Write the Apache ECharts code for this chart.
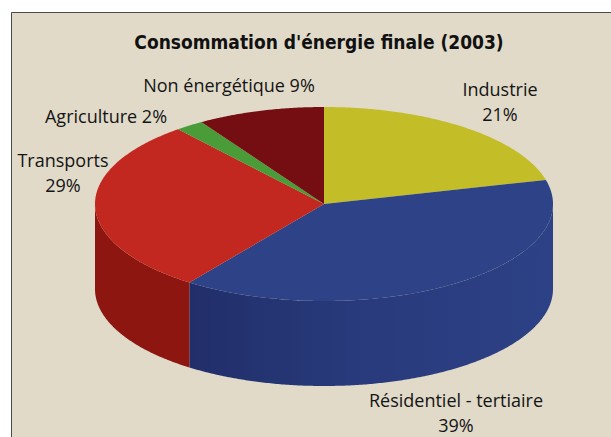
<!DOCTYPE html>
<html><head><meta charset="utf-8">
<script src="https://cdn.jsdelivr.net/npm/echarts@6/dist/echarts.min.js"></script>
<style>html,body{margin:0;padding:0;background:#fff;}#c{width:611px;height:437px;}</style>
</head><body><div id="c"></div>
<script>
// ---- data ----
const categories = ['Industrie', 'Résidentiel - tertiaire', 'Transports', 'Agriculture', 'Non énergétique'];
const values = [21, 39, 29, 2, 9];
const titleText = "Consommation d'énergie finale (2003)";

// ---- styles / layout ----
const topColors = ['#c3bd27', '#2e4387', '#c22820', '#4a9c39', '#740e13'];
const sideColors = ['#8f8b1c', null, '#8d1610', '#2f6e26', '#520a0d'];
const CX = 324, CY = 204, RX = 229, RY = 97, DEPTH = 85;
const labelLayout = [
  {x: 500, y: 101, sep: '\n'},
  {x: 456, y: 412, sep: '\n'},
  {x: 63, y: 172, sep: '\n'},
  {x: 106, y: 116, sep: ' '},
  {x: 229, y: 85, sep: ' '}
];
const FONT = '"Open Sans", "Noto Sans", sans-serif';

const total = values.reduce((a, b) => a + b, 0);
function pt(theta, dy) {
  const r = theta * Math.PI / 180;
  return [CX + RX * Math.sin(r), CY - RY * Math.cos(r) + (dy || 0)];
}
function arc(a0, a1, dy) {
  const pts = [];
  const n = Math.max(2, Math.ceil(Math.abs(a1 - a0) / 0.5));
  for (let i = 0; i <= n; i++) pts.push(pt(a0 + (a1 - a0) * i / n, dy));
  return pts;
}

function renderItem(params, api) {
  const idx = params.dataIndex;
  let before = 0;
  for (let i = 0; i < idx; i++) before += values[i];
  const start = before / total * 360;
  const end = (before + api.value(1)) / total * 360;
  const children = [];
  const s0 = Math.max(start, 90), s1 = Math.min(end, 270);
  if (s0 < s1) {
    const pts = arc(s0, s1, 0).concat(arc(s1, s0, DEPTH));
    let fill = sideColors[idx];
    if (idx === 1) {
      fill = new echarts.graphic.LinearGradient(0, 0, 1, 0, [
        {offset: 0, color: '#212e6a'}, {offset: 0.45, color: '#283a7b'}, {offset: 1, color: '#2d4186'}
      ]);
    }
    children.push({type: 'polygon', shape: {points: pts}, style: {fill: fill}});
  }
  const topPts = [[CX, CY]].concat(arc(start, end, 0));
  children.push({type: 'polygon', shape: {points: topPts}, style: {fill: topColors[idx]}});
  return {type: 'group', children: children};
}

const labels = categories.map((c, i) => ({
  type: 'text',
  z: 10,
  style: {
    text: c + labelLayout[i].sep + values[i] + '%',
    x: labelLayout[i].x, y: labelLayout[i].y,
    align: 'center', verticalAlign: 'middle',
    font: '18px ' + FONT, lineHeight: 25, fill: '#141414'
  }
}));

const chart = echarts.init(document.getElementById('c'), null, {renderer: 'svg'});
chart.setOption({
  animation: false,
  backgroundColor: '#ffffff',
  graphic: [
    {type: 'rect', z: -10, shape: {x: 11.5, y: 12.5, width: 700, height: 500},
     style: {fill: '#e1dac9', stroke: '#4a4a4a', lineWidth: 1}},
    {type: 'text', z: 10, style: {text: titleText, x: 319, y: 42, align: 'center', verticalAlign: 'middle',
      font: 'bold 19px "Liberation Sans Narrow", "DejaVu Sans Condensed", sans-serif', fill: '#111'}}
  ].concat(labels),
  series: [{
    type: 'custom',
    coordinateSystem: 'none',
    renderItem: renderItem,
    data: categories.map((c, i) => [i, values[i]]),
    z: 2
  }]
});
</script>
</body></html>
